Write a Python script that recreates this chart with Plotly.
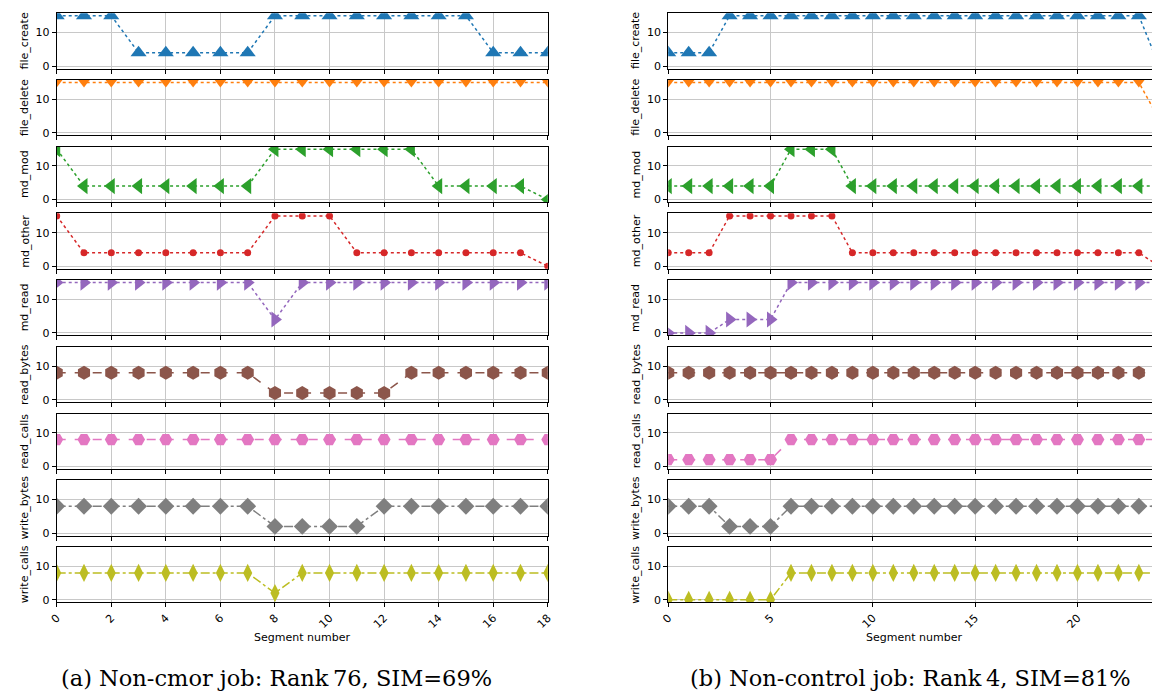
import plotly.graph_objects as go

# ---------------------------------------------------------------- data
metrics = ["file_create", "file_delete", "md_mod", "md_other", "md_read",
           "read_bytes", "read_calls", "write_bytes", "write_calls"]

# (a) Non-cmor job, segments 0..18
seg_a = list(range(19))
a_file_create = [15, 15, 15, 4, 4, 4, 4, 4, 15, 15, 15, 15, 15, 15, 15, 15, 4, 4, 4]
a_file_delete = [15] * 19
a_md_mod = [15, 4, 4, 4, 4, 4, 4, 4, 15, 15, 15, 15, 15, 15, 4, 4, 4, 4, 0]
a_md_other = [15, 4, 4, 4, 4, 4, 4, 4, 15, 15, 15, 4, 4, 4, 4, 4, 4, 4, 0]
a_md_read = [15, 15, 15, 15, 15, 15, 15, 15, 4, 15, 15, 15, 15, 15, 15, 15, 15, 15, 15]
a_read_bytes = [8, 8, 8, 8, 8, 8, 8, 8, 2, 2, 2, 2, 2, 8, 8, 8, 8, 8, 8]
a_read_calls = [8] * 19
a_write_bytes = [8, 8, 8, 8, 8, 8, 8, 8, 2, 2, 2, 2, 8, 8, 8, 8, 8, 8, 8]
a_write_calls = [8, 8, 8, 8, 8, 8, 8, 8, 2, 8, 8, 8, 8, 8, 8, 8, 8, 8, 8]

# (b) Non-control job, segments 0..24
seg_b = list(range(25))
b_file_create = [4, 4, 4] + [15] * 21 + [0]
b_file_delete = [15] * 24 + [4]
b_md_mod = [4, 4, 4, 4, 4, 4, 15, 15, 15] + [4] * 16
b_md_other = [4, 4, 4, 15, 15, 15, 15, 15, 15] + [4] * 15 + [0]
b_md_read = [0, 0, 0, 4, 4, 4] + [15] * 19
b_read_bytes = [8] * 25
b_read_calls = [2] * 6 + [8] * 19
b_write_bytes = [8, 8, 8, 2, 2, 2] + [8] * 19
b_write_calls = [0] * 6 + [8] * 19

series_a = [a_file_create, a_file_delete, a_md_mod, a_md_other, a_md_read,
            a_read_bytes, a_read_calls, a_write_bytes, a_write_calls]
series_b = [b_file_create, b_file_delete, b_md_mod, b_md_other, b_md_read,
            b_read_bytes, b_read_calls, b_write_bytes, b_write_calls]

captions = ["(a) Non-cmor job: Rank\u200976, SIM=69%",
            "(b) Non-control job: Rank\u20094, SIM=81%"]

# ---------------------------------------------------------------- styles
colors = ["#1f77b4", "#ff7f0e", "#2ca02c", "#d62728", "#9467bd",
          "#8c564b", "#e377c2", "#7f7f7f", "#bcbd22"]
symbols = ["triangle-up", "triangle-down", "triangle-left", "circle", "triangle-right",
           "hexagon", "hexagon2", "diamond", "diamond-tall"]
sizes = [14, 10, 14, 7, 14, 14, 13, 13, 13]
dashes = ["dot", "dot", "dot", "dot", "dot", "dash", "dash", "dashdot", "dashdot"]

W, H = 1158, 698
FONT = "DejaVu Sans"
GRID = "#c8c8c8"

# panel geometry in pixels
PANEL_TOP0 = 13.3
PANEL_PITCH = 67.1
PANEL_H = 55.7
LEFT_X0, LEFT_X1 = 49.3, 546.4
PANEL_W = LEFT_X1 - LEFT_X0
RIGHT_X0 = 668.3
RIGHT_PX_PER_UNIT = PANEL_W / 24.0

columns = [
    dict(x=seg_a, data=series_a, x0=LEFT_X0, x1=LEFT_X1, rng=[0, 18], dtick=2, mirror_y=True),
    dict(x=seg_b, data=series_b, x0=RIGHT_X0, x1=W,
         rng=[0, (W - RIGHT_X0) / RIGHT_PX_PER_UNIT], dtick=5, mirror_y=False),
]

fig = go.Figure()
layout = dict(
    width=W, height=H,
    margin=dict(l=0, r=0, t=0, b=0),
    paper_bgcolor="white", plot_bgcolor="white",
    showlegend=False,
    font=dict(family=FONT, size=11, color="black"),
    annotations=[],
)

n = 0
for c, col in enumerate(columns):
    for i, name in enumerate(metrics):
        n += 1
        sfx = "" if n == 1 else str(n)
        top = PANEL_TOP0 + PANEL_PITCH * i
        bot = top + PANEL_H
        ydom = [1 - bot / H, 1 - top / H]
        xdom = [col["x0"] / W, min(col["x1"] / W, 1.0)]
        last = i == len(metrics) - 1

        fig.add_trace(go.Scatter(
            x=col["x"], y=col["data"][i],
            mode="lines+markers",
            line=dict(color=colors[i], width=1.5, dash=dashes[i]),
            marker=dict(color=colors[i], symbol=symbols[i], size=sizes[i], line=dict(width=0)),
            xaxis="x" + sfx, yaxis="y" + sfx,
            cliponaxis=True,
            hoverinfo="x+y",
        ))

        layout["xaxis" + sfx] = dict(
            domain=xdom, anchor="y" + sfx, range=col["rng"],
            tickmode="linear", tick0=0, dtick=col["dtick"],
            showgrid=True, gridcolor=GRID, gridwidth=1,
            zeroline=False,
            showline=True, linecolor="black", linewidth=1, mirror=True,
            ticks="outside", ticklen=4, tickwidth=1, tickcolor="black",
            showticklabels=last, tickangle=-45,
            tickfont=dict(family=FONT, size=11, color="black"),
        )
        layout["yaxis" + sfx] = dict(
            domain=ydom, anchor="x" + sfx, range=[-0.75, 15.75],
            tickmode="array", tickvals=[0, 10], ticktext=["0", "10"],
            showgrid=True, gridcolor=GRID, gridwidth=1,
            zeroline=False,
            showline=True, linecolor="black", linewidth=1, mirror=col["mirror_y"],
            ticks="outside", ticklen=4, tickwidth=1, tickcolor="black",
            tickfont=dict(family=FONT, size=11, color="black"),
        )
        # y-axis label, rotated, left of the tick labels
        layout["annotations"].append(dict(
            text=name, xref="paper", yref="paper",
            x=(col["x0"] - 32.5) / W, y=1 - (top + PANEL_H / 2) / H,
            xanchor="center", yanchor="middle", textangle=-90, showarrow=False,
            font=dict(family=FONT, size=11, color="black"),
        ))

    # x-axis title under the bottom panel
    layout["annotations"].append(dict(
        text="Segment number", xref="paper", yref="paper",
        x=(col["x0"] + PANEL_W / 2) / W, y=1 - 641 / H,
        xanchor="center", yanchor="middle", showarrow=False,
        font=dict(family=FONT, size=11, color="black"),
    ))

# subfigure captions
for cap, cx in zip(captions, [271.5, 914.0]):
    layout["annotations"].append(dict(
        text=cap, xref="paper", yref="paper",
        x=cx / W, y=1 - 682 / H,
        xanchor="center", yanchor="middle", showarrow=False,
        font=dict(family="DejaVu Serif", size=22.5, color="black"),
    ))

fig.update_layout(**layout)
fig.write_html("out.html")
